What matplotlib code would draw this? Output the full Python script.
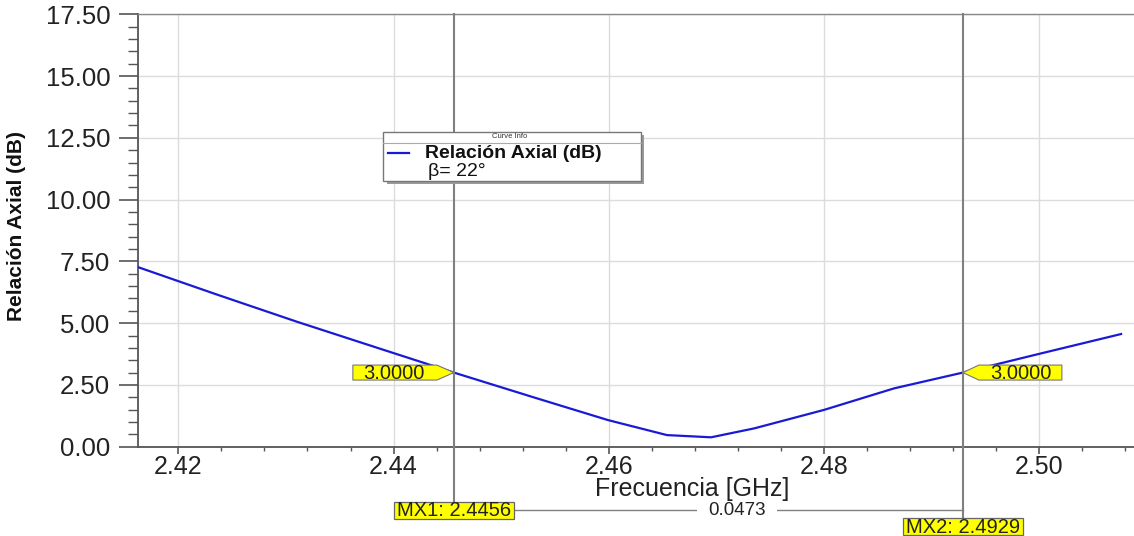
import matplotlib
matplotlib.use('Agg')
import matplotlib.pyplot as plt
from matplotlib.ticker import MultipleLocator, FormatStrFormatter
from matplotlib.transforms import ScaledTranslation, blended_transform_factory
from matplotlib.patches import Polygon, Rectangle
from matplotlib.lines import Line2D

plt.rcParams['font.family'] = ['Liberation Sans', 'DejaVu Sans']

# curva de relacion axial
freq = [2.4163, 2.4235, 2.4310, 2.4385, 2.4456, 2.4530, 2.4599, 2.4654,
        2.4695, 2.4735, 2.4800, 2.4865, 2.4929, 2.5002, 2.5076]
ar_db = [7.26, 6.17, 5.06, 4.00, 3.00, 2.00, 1.08, 0.47,
         0.38, 0.74, 1.49, 2.36, 3.00, 3.78, 4.56]

mx1 = 2.4456
mx2 = 2.4929
mx_val = 3.0

W, H = 1134, 536
fig = plt.figure(figsize=(W / 100, H / 100), dpi=100)
ax = fig.add_axes([138 / W, 1 - 446.7 / H, 1 - 138 / W, (446.7 - 14.3) / H])

ax.plot(freq, ar_db, color='#1a1ad6', linewidth=1.6, zorder=3)

ax.set_xlim(2.41625, 2.5088)
ax.set_ylim(0, 17.5)
ax.xaxis.set_major_locator(MultipleLocator(0.02))
ax.xaxis.set_minor_locator(MultipleLocator(0.004))
ax.yaxis.set_major_locator(MultipleLocator(2.5))
ax.yaxis.set_minor_locator(MultipleLocator(0.5))
ax.xaxis.set_major_formatter(FormatStrFormatter('%.2f'))
ax.yaxis.set_major_formatter(FormatStrFormatter('%.2f'))
ax.grid(True, which='major', color='#dcdcdc', linewidth=1.0, zorder=0)

ax.tick_params(axis='y', which='major', length=14, width=1.2, color='#555555',
               labelsize=18.5, pad=6, labelcolor='#222222')
ax.tick_params(axis='y', which='minor', length=7, width=1.0, color='#555555')
ax.tick_params(axis='x', which='major', length=5, width=1.2, color='#555555',
               labelsize=18, pad=1, labelcolor='#222222')
ax.tick_params(axis='x', which='minor', length=3, width=1.0, color='#555555')

for s in ['left', 'bottom']:
    ax.spines[s].set_color('#555555')
    ax.spines[s].set_linewidth(1.3)
ax.spines['top'].set_color('#888888')
ax.spines['top'].set_linewidth(1.0)
ax.spines['right'].set_visible(False)

ax.set_xlabel('Frecuencia [GHz]', fontsize=18, color='#222222')
ax.xaxis.set_label_coords(0.556, -0.07)
ax.set_ylabel('Relación Axial (dB)', fontsize=15, fontweight='bold', color='#111111')
ax.yaxis.set_label_coords(-0.112, 0.51)

# lineas de marcadores
for m, ymin in [(mx1, -0.1464), (mx2, -0.19)]:
    ax.axvline(m, ymin=ymin, ymax=1, color='#808080', linewidth=1.5,
               clip_on=False, zorder=4)

blend = blended_transform_factory(ax.transData, ax.transAxes)
ax.add_line(Line2D([mx1, mx2], [-0.1464, -0.1464], transform=blend,
                   color='#808080', linewidth=1.0, clip_on=False, zorder=4))
tr_mid = fig.dpi_scale_trans + ScaledTranslation((mx1 + mx2) / 2, -0.1464, blend)
ax.add_patch(Rectangle((0.29 - 0.40, -0.04), 0.80, 0.08, transform=tr_mid,
                       fc='white', ec='none', clip_on=False, zorder=5))
ax.text(0.29, 0, f'{mx2 - mx1:.4f}', transform=tr_mid, ha='center', va='center',
        fontsize=13.5, color='#222222', zorder=6)

# etiquetas MX
for name, m, yax in [('MX1', mx1, -0.1464), ('MX2', mx2, -0.1857)]:
    tr = fig.dpi_scale_trans + ScaledTranslation(m, yax, blend)
    ax.add_patch(Rectangle((-0.60, -0.085), 1.20, 0.17, transform=tr,
                           fc='#ffff00', ec='#666666', lw=0.9,
                           clip_on=False, zorder=6))
    ax.text(0, -0.005, f'{name}: {m:.4f}', transform=tr, ha='center',
            va='center', fontsize=14.5, color='#222222', zorder=7)

# globos con valor del marcador
left_shape = [(-1.01, 0.075), (-0.17, 0.075), (0, 0), (-0.17, -0.075), (-1.01, -0.075)]
right_shape = [(0, 0), (0.16, 0.075), (0.99, 0.075), (0.99, -0.075), (0.16, -0.075)]
for m, shape, tx in [(mx1, left_shape, -0.60), (mx2, right_shape, 0.58)]:
    tr = fig.dpi_scale_trans + ScaledTranslation(m, mx_val, ax.transData)
    ax.add_patch(Polygon(shape, closed=True, transform=tr, fc='#ffff00',
                         ec='#777777', lw=0.8, clip_on=False, zorder=6))
    ax.text(tx, -0.005, f'{mx_val:.4f}', transform=tr, ha='center', va='center',
            fontsize=14.5, color='#222222', zorder=7)

# cuadro "Curve Info"
def fx(x):
    return x / W

def fy(y):
    return 1 - y / H

fig.patches.append(Rectangle((fx(386.5), fy(184)), fx(640.7) - fx(383.3), fy(131.7) - fy(180.7),
                             transform=fig.transFigure, fc='#9a9a9a', ec='none', zorder=8))
fig.patches.append(Rectangle((fx(383.3), fy(180.7)), fx(640.7) - fx(383.3), fy(131.7) - fy(180.7),
                             transform=fig.transFigure, fc='white', ec='#777777', lw=1.0, zorder=9))
fig.lines.append(Line2D([fx(383.3), fx(640.7)], [fy(143.3), fy(143.3)],
                        transform=fig.transFigure, color='#aaaaaa', lw=0.8, zorder=10))
fig.lines.append(Line2D([fx(388), fx(409)], [fy(153.3), fy(153.3)],
                        transform=fig.transFigure, color='#1a1ad6', lw=1.6, zorder=10))
fig.text(fx(510), fy(136.7), 'Curve Info', fontsize=5.5, ha='center', va='center',
         color='#333333', zorder=10)
fig.text(fx(425), fy(153.3), 'Relación Axial (dB)', fontsize=14, fontweight='bold',
         ha='left', va='center', color='#111111', zorder=10)
fig.text(fx(428), fy(171.5), 'β= 22°', fontsize=14, ha='left', va='center',
         color='#111111', zorder=10)

fig.savefig('out.png', dpi=100)
